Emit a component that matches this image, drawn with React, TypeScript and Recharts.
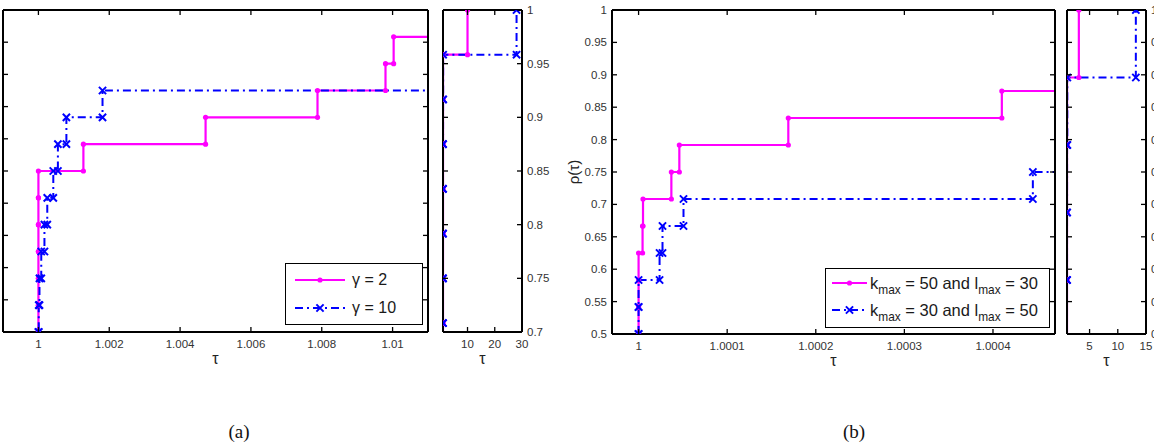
import React from 'react';
import { LineChart, Line, XAxis, YAxis, Legend } from 'recharts';

const CHART_W = 1154;
const CHART_H = 447;
const MAGENTA = '#ff00ff';
const BLUE = '#0000ff';
const SANS = '"Liberation Sans", Arial, Helvetica, sans-serif';
const SERIF = '"Liberation Serif", "Times New Roman", serif';

// Sorted performance ratios (one per test problem, 24 problems) for each solver setting.
const ratiosGamma2 = [
  1, 1, 1, 1, 1, 1, 1, 1, 1, 1, 1, 1, 1, 1, 1, 1, 1, 1,
  1.00127, 1.00472, 1.00788, 1.0098, 1.01003, 10,
];
const ratiosGamma10 = [
  1, 1, 1, 1, 1, 1, 1, 1, 1, 1, 1, 1,
  1.00001, 1.00003, 1.00008, 1.00017, 1.00025, 1.00042, 1.00055, 1.00079, 1.00181,
  1.02, 1.05, 28,
];
const ratiosK50L30 = [
  1, 1, 1, 1, 1, 1, 1, 1, 1, 1, 1, 1, 1, 1, 1,
  1.0000045, 1.000005, 1.000037, 1.000046, 1.000169, 1.00041,
  1.002, 1.01, 3.1,
];
const ratiosK30L50 = [
  1, 1, 1, 1, 1, 1, 1, 1, 1, 1, 1, 1, 1, 1,
  1.0000237, 1.000027, 1.0000507, 1.000445,
  1.001, 1.002, 1.005, 1.01, 1.05, 13.2,
];

// Series names
const nameGamma2 = 'γ = 2';
const nameGamma10 = 'γ = 10';
const nameK50L30 = 'k_max = 50 and l_max = 30';
const nameK30L50 = 'k_max = 30 and l_max = 50';

// Axis ranges and tick values
const mainAXDomain = [0.999, 1.011];
const mainAXTicks = [1, 1.002, 1.004, 1.006, 1.008, 1.01];
const mainAYDomain = [0.5, 1];
const mainAYTicks = [0.5, 0.55, 0.6, 0.65, 0.7, 0.75, 0.8, 0.85, 0.9, 0.95, 1];
const sideAXDomain = [1, 30];
const sideAXTicks = [10, 20, 30];
const sideAYDomain = [0.7, 1];
const sideAYTicks = [0.7, 0.75, 0.8, 0.85, 0.9, 0.95, 1];

const mainBXDomain = [0.99997, 1.00047];
const mainBXTicks = [1, 1.0001, 1.0002, 1.0003, 1.0004];
const mainBYDomain = [0.5, 1];
const mainBYTicks = [0.5, 0.55, 0.6, 0.65, 0.7, 0.75, 0.8, 0.85, 0.9, 0.95, 1];
const sideBXDomain = [1, 15];
const sideBXTicks = [5, 10, 15];
const sideBYDomain = [0.8, 1];
const sideBYTicks = [0.8, 0.82, 0.84, 0.86, 0.88, 0.9, 0.92, 0.94, 0.96, 0.98, 1];

type Frame = { left: number; top: number; right: number; bottom: number };
type ProfilePoint = { x: number; y: number; edge?: boolean };

// Corner vertices of the performance-profile staircase: rho(tau) = fraction of problems with ratio <= tau.
// The staircase is cut where it leaves the axis range on the right, so the dash pattern stays short.
function profilePoints(ratios: number[], xMax: number) {
  const n = ratios.length;
  const corners: ProfilePoint[] = [];
  ratios.forEach((r, i) => {
    corners.push({ x: r, y: i / n });
    corners.push({ x: r, y: (i + 1) / n });
  });
  const out: ProfilePoint[] = [];
  for (const p of corners) {
    if (p.x <= xMax) {
      out.push(p);
      continue;
    }
    const last = out[out.length - 1];
    if (last) out.push({ x: xMax, y: last.y, edge: true });
    break;
  }
  return out;
}

const MagentaDot = (p: any) => {
  const { cx, cy, key, payload } = p;
  if (cx == null || cy == null || !isFinite(cx) || !isFinite(cy) || (payload && payload.edge))
    return <g key={key} />;
  return <circle key={key} cx={cx} cy={cy} r={2.6} fill={MAGENTA} stroke="none" />;
};

const BlueCross = (p: any) => {
  const { cx, cy, key, payload } = p;
  if (cx == null || cy == null || !isFinite(cx) || !isFinite(cy) || (payload && payload.edge))
    return <g key={key} />;
  const s = 3.6;
  return (
    <path
      key={key}
      d={`M${cx - s},${cy - s}L${cx + s},${cy + s}M${cx - s},${cy + s}L${cx + s},${cy - s}`}
      stroke={BLUE}
      strokeWidth={2}
      fill="none"
    />
  );
};

type SeriesStyle = { stroke: string; width: number; dash?: string; marker: 'dot' | 'cross' };
const solidMagenta: SeriesStyle = { stroke: MAGENTA, width: 2.2, marker: 'dot' };
const dashDotBlue: SeriesStyle = { stroke: BLUE, width: 2, dash: '8 4 2 4', marker: 'cross' };

type Series = { name: string; ratios: number[]; style: SeriesStyle };

const TICK_LEN = 5;
type Side = 'bottom' | 'top' | 'left' | 'right';

function tickRenderer(side: Side, withLabel: boolean) {
  return (props: any) => {
    const { x, y, payload } = props;
    const v = payload ? payload.value : '';
    let x2 = x;
    let y2 = y;
    if (side === 'bottom') y2 = y - TICK_LEN;
    if (side === 'top') y2 = y + TICK_LEN;
    if (side === 'left') x2 = x + TICK_LEN;
    if (side === 'right') x2 = x - TICK_LEN;
    const common = { fill: '#333', fontSize: 11.5, fontFamily: SANS };
    let label: React.ReactNode = null;
    if (withLabel) {
      if (side === 'bottom')
        label = (
          <text x={x} y={y + 15.5} textAnchor="middle" {...common}>
            {String(v)}
          </text>
        );
      else if (side === 'left')
        label = (
          <text x={x - 5} y={y + 4} textAnchor="end" {...common}>
            {String(v)}
          </text>
        );
      else if (side === 'right')
        label = (
          <text x={x + 5} y={y + 4} textAnchor="start" {...common}>
            {String(v)}
          </text>
        );
    }
    return (
      <g>
        <line x1={x} y1={y} x2={x2} y2={y2} stroke="#000" strokeWidth={1.3} />
        {label}
      </g>
    );
  };
}

function richName(name: string) {
  const parts = String(name).split(/_(\w+)/);
  return parts.map((p, i) =>
    i % 2 === 1 ? (
      <span key={i} style={{ fontSize: '0.72em', position: 'relative', top: '0.42em' }}>
        {p}
      </span>
    ) : (
      <span key={i}>{p}</span>
    )
  );
}

type LegendBox = {
  left: number;
  top: number;
  width: number;
  height: number;
  rowY: number[];
  sampleStart: number;
  sampleEnd: number;
  textX: number;
  fontSize: number;
};

function makeLegendContent(box: LegendBox, series: Series[]) {
  return (props: any) => {
    const payload: any[] = props.payload || [];
    const rows = series
      .map((s) => ({ s, item: payload.find((it) => it.value === s.name) }))
      .filter((r) => r.item);
    return (
      <div
        style={{
          position: 'relative',
          width: box.width,
          height: box.height,
          border: '1.5px solid #000',
          boxSizing: 'border-box',
          background: '#fff',
          fontFamily: SANS,
          fontSize: box.fontSize,
          color: '#1a1a1a',
        }}
      >
        {rows.map(({ s, item }, i) => {
          const st = s.style;
          const cy = box.rowY[i];
          const mid = (box.sampleStart + box.sampleEnd) / 2;
          return (
            <div key={i} style={{ position: 'absolute', left: 0, top: cy - 12, height: 24, width: box.width }}>
              <svg width={box.textX} height={24} style={{ position: 'absolute', left: 0, top: 0 }}>
                <line
                  x1={box.sampleStart}
                  y1={12}
                  x2={box.sampleEnd}
                  y2={12}
                  stroke={st.stroke}
                  strokeWidth={st.width}
                  strokeDasharray={st.dash}
                />
                {st.marker === 'dot' ? <MagentaDot cx={mid} cy={12} /> : <BlueCross cx={mid} cy={12} />}
              </svg>
              <div
                style={{
                  position: 'absolute',
                  left: box.textX,
                  top: 0,
                  height: 24,
                  lineHeight: '24px',
                  whiteSpace: 'nowrap',
                }}
              >
                {richName(item.value)}
              </div>
            </div>
          );
        })}
      </div>
    );
  };
}

type PanelProps = {
  frame: Frame;
  xDomain: number[];
  xTicks: number[];
  yDomain: number[];
  yTicks: number[];
  yLabelSide: 'left' | 'right' | 'none';
  series: Series[];
  yTitle?: string;
  legend?: LegendBox;
};

function ProfilePanel({ frame, xDomain, xTicks, yDomain, yTicks, yLabelSide, series, yTitle, legend }: PanelProps) {
  const margin = {
    left: frame.left - 1,
    top: frame.top - 1,
    right: CHART_W - frame.right - 1,
    bottom: CHART_H - frame.bottom - 1,
  };
  const frameLine = { stroke: '#000', strokeWidth: 2 };
  const midY = (frame.top + frame.bottom) / 2;
  return (
    <div style={{ position: 'absolute', left: 0, top: 0 }}>
      <LineChart width={CHART_W} height={CHART_H} margin={margin}>
        <XAxis
          xAxisId="b"
          type="number"
          dataKey="x"
          orientation="bottom"
          domain={xDomain}
          ticks={xTicks}
          allowDataOverflow
          height={1}
          tickSize={0}
          tickMargin={0}
          interval={0}
          axisLine={frameLine}
          tickLine={false}
          tick={tickRenderer('bottom', true)}
          label={{ value: 'τ', position: 'bottom', offset: 20, fill: '#222', fontSize: 16, fontFamily: SANS }}
        />
        <XAxis
          xAxisId="t"
          type="number"
          dataKey="x"
          orientation="top"
          domain={xDomain}
          ticks={xTicks}
          allowDataOverflow
          height={1}
          tickSize={0}
          tickMargin={0}
          interval={0}
          axisLine={frameLine}
          tickLine={false}
          tick={tickRenderer('top', false)}
        />
        <YAxis
          yAxisId="l"
          type="number"
          orientation="left"
          domain={yDomain}
          ticks={yTicks}
          allowDataOverflow
          width={1}
          tickSize={0}
          tickMargin={0}
          interval={0}
          axisLine={frameLine}
          tickLine={false}
          tick={tickRenderer('left', yLabelSide === 'left')}
          label={
            yTitle
              ? {
                  content: () => (
                    <text
                      transform={`translate(${frame.left - 39}, ${midY}) rotate(-90)`}
                      textAnchor="middle"
                      dominantBaseline="central"
                      fill="#222"
                      fontSize={15}
                      fontFamily={SANS}
                    >
                      {yTitle}
                    </text>
                  ),
                }
              : undefined
          }
        />
        <YAxis
          yAxisId="r"
          type="number"
          orientation="right"
          domain={yDomain}
          ticks={yTicks}
          allowDataOverflow
          width={1}
          tickSize={0}
          tickMargin={0}
          interval={0}
          axisLine={frameLine}
          tickLine={false}
          tick={tickRenderer('right', yLabelSide === 'right')}
        />
        {series.map((s) => (
          <Line
            key={s.name}
            name={s.name}
            xAxisId="b"
            yAxisId="l"
            type="linear"
            data={profilePoints(s.ratios, xDomain[1])}
            dataKey="y"
            stroke={s.style.stroke}
            strokeWidth={s.style.width}
            strokeDasharray={s.style.dash}
            dot={s.style.marker === 'dot' ? MagentaDot : BlueCross}
            activeDot={false}
            isAnimationActive={false}
          />
        ))}
        {legend ? (
          <Legend
            verticalAlign="middle"
            content={makeLegendContent(legend, series)}
            wrapperStyle={{ left: legend.left, top: legend.top, width: legend.width, height: legend.height }}
          />
        ) : null}
      </LineChart>
    </div>
  );
}

const frameMainA: Frame = { left: 3, top: 10, right: 428, bottom: 332 };
const frameSideA: Frame = { left: 443, top: 10, right: 522, bottom: 332 };
const frameMainB: Frame = { left: 612, top: 10, right: 1055, bottom: 334 };
const frameSideB: Frame = { left: 1067, top: 10, right: 1146, bottom: 334 };

const seriesA: Series[] = [
  { name: nameGamma2, ratios: ratiosGamma2, style: solidMagenta },
  { name: nameGamma10, ratios: ratiosGamma10, style: dashDotBlue },
];
const seriesB: Series[] = [
  { name: nameK50L30, ratios: ratiosK50L30, style: solidMagenta },
  { name: nameK30L50, ratios: ratiosK30L50, style: dashDotBlue },
];

const legendA: LegendBox = {
  left: 285,
  top: 263,
  width: 138,
  height: 62,
  rowY: [16, 44],
  sampleStart: 9,
  sampleEnd: 59,
  textX: 66,
  fontSize: 16,
};
const legendB: LegendBox = {
  left: 825,
  top: 268,
  width: 225,
  height: 60,
  rowY: [14, 41],
  sampleStart: 6,
  sampleEnd: 41,
  textX: 44,
  fontSize: 16.5,
};

const captionStyle: React.CSSProperties = {
  position: 'absolute',
  top: 421,
  width: 100,
  textAlign: 'center',
  fontFamily: SERIF,
  fontSize: 19,
  color: '#111',
};

export default function App() {
  return (
    <div
      style={{
        position: 'absolute',
        left: 0,
        top: 0,
        width: CHART_W,
        height: CHART_H,
        overflow: 'hidden',
        background: '#fff',
      }}
    >
      <ProfilePanel
        frame={frameMainA}
        xDomain={mainAXDomain}
        xTicks={mainAXTicks}
        yDomain={mainAYDomain}
        yTicks={mainAYTicks}
        yLabelSide="none"
        series={seriesA}
        legend={legendA}
      />
      <ProfilePanel
        frame={frameSideA}
        xDomain={sideAXDomain}
        xTicks={sideAXTicks}
        yDomain={sideAYDomain}
        yTicks={sideAYTicks}
        yLabelSide="right"
        series={seriesA}
      />
      <ProfilePanel
        frame={frameMainB}
        xDomain={mainBXDomain}
        xTicks={mainBXTicks}
        yDomain={mainBYDomain}
        yTicks={mainBYTicks}
        yLabelSide="left"
        series={seriesB}
        yTitle="ρ(τ)"
        legend={legendB}
      />
      <ProfilePanel
        frame={frameSideB}
        xDomain={sideBXDomain}
        xTicks={sideBXTicks}
        yDomain={sideBYDomain}
        yTicks={sideBYTicks}
        yLabelSide="right"
        series={seriesB}
      />
      <div style={{ ...captionStyle, left: 189 }}>(a)</div>
      <div style={{ ...captionStyle, left: 804 }}>(b)</div>
    </div>
  );
}
